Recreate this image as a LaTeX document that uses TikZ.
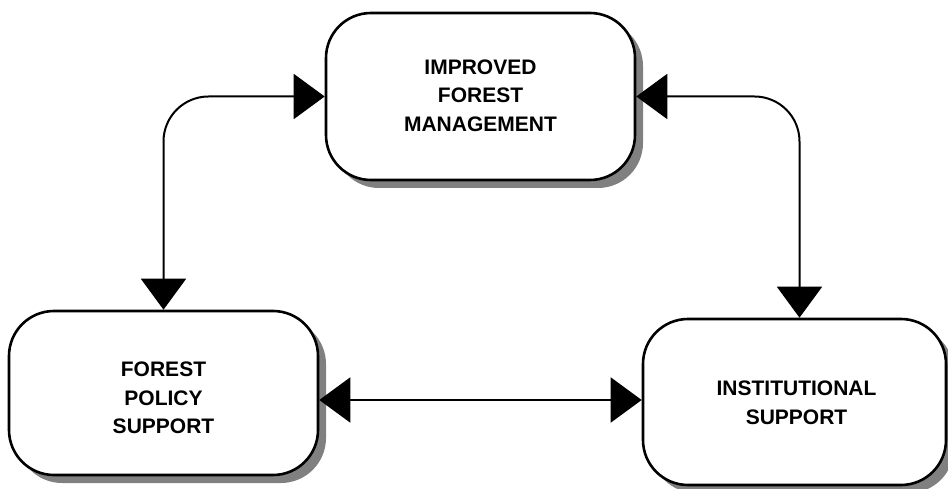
\documentclass[tikz,border=0pt]{standalone}
\usepackage{fontspec}
\setmainfont{Liberation Sans}
\usetikzlibrary{arrows.meta,shadows,calc}
\tikzset{
  box/.style={draw=black, line width=2.6pt, fill=white, rounded corners=45pt,
    drop shadow={shadow xshift=8pt, shadow yshift=-8pt, fill=black!50, opacity=1}},
  txt/.style={align=center, font=\fontsize{21}{28.5}\selectfont\bfseries, inner sep=0pt},
  conn/.style={line width=2pt, {Triangle[length=31pt,width=45pt]}-{Triangle[length=31pt,width=45pt]}}
}
\begin{document}
\begin{tikzpicture}[x=1pt,y=-1pt]
\useasboundingbox (0,0) rectangle (948,489);
\node[box, minimum width=309pt, minimum height=167pt] (top) at (480.5,96.5) {};
\node[box, minimum width=309pt, minimum height=164pt] (left) at (163.5,393) {};
\node[box, minimum width=303pt, minimum height=166pt] (right) at (794.5,402) {};
\node[txt] (toptext) at ([yshift=1pt]top.center) {IMPROVED\\FOREST\\MANAGEMENT};
\node[txt] (lefttext) at ([yshift=-5pt]left.center) {FOREST\\POLICY\\SUPPORT};
\node[txt] (righttext) at ([yshift=-1pt, xshift=2pt]right.center) {INSTITUTIONAL\\SUPPORT};
\draw[conn, rounded corners=45pt] (top.west) -| (left.north);
\draw[conn, rounded corners=45pt] (top.east) -| ([xshift=5pt]right.north);
\draw[conn] ([yshift=-7pt]left.east) coordinate (p) -- (p -| right.west);
\end{tikzpicture}
\end{document}
